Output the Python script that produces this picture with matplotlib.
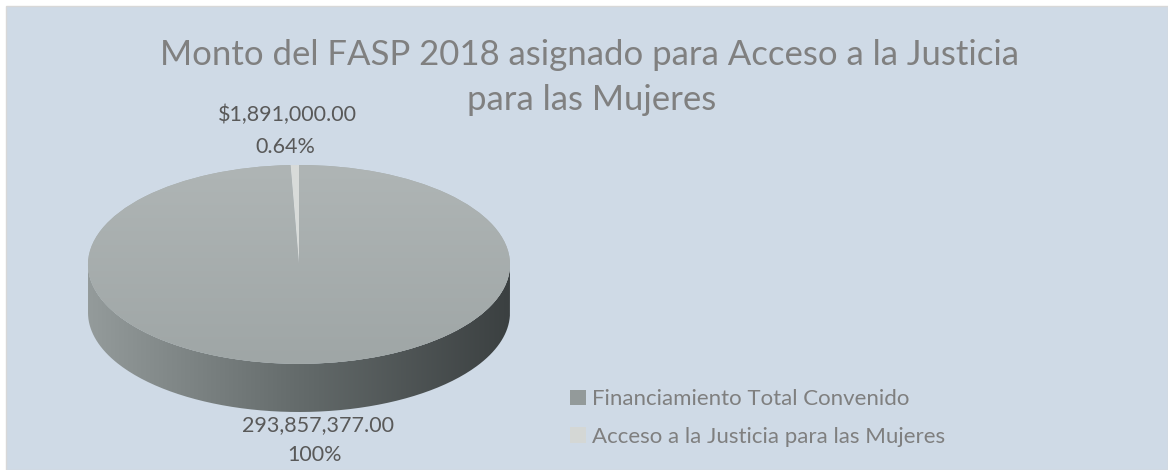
import numpy as np
import matplotlib
matplotlib.use("Agg")
import matplotlib.pyplot as plt
from matplotlib.colors import LinearSegmentedColormap
from matplotlib.patches import Rectangle, PathPatch
from matplotlib.path import Path

# data
categories = ["Financiamiento Total Convenido", "Acceso a la Justicia para las Mujeres"]
values = [293857377.00, 1891000.00]
value_labels = ["293,857,377.00", "$1,891,000.00"]
pct_labels = ["100%", "0.64%"]
colors = ["#a6adad", "#d8dbd9"]

title_lines = ["Monto del FASP 2018 asignado para Acceso a la Justicia", "para las Mujeres"]

plt.rcParams["font.family"] = ["Lato", "DejaVu Sans"]

W, H = 1168, 470
fig = plt.figure(figsize=(W / 100, H / 100), dpi=100)
fig.patch.set_facecolor("white")

# background panel in pixel coordinates
bg = fig.add_axes([0, 0, 1, 1])
bg.set_xlim(0, W)
bg.set_ylim(H, 0)
bg.axis("off")
bg.add_patch(Rectangle((6, 6), W - 6, H - 6, facecolor="#cfdae6",
                       edgecolor="#d8d8d8", linewidth=1))

bg.text(589, 55, title_lines[0], ha="center", va="center", fontsize=25, color="#808080")
bg.text(592, 100, title_lines[1], ha="center", va="center", fontsize=25, color="#808080")

# pie axes: top face ellipse spans x 88..510, y 165..363; side depth 48px
depth = 48 / 99
ax = fig.add_axes([88 / W, (H - 412) / H, 422 / W, (412 - 165) / H])
ax.set_facecolor("none")

# side wall with horizontal gradient
t = np.linspace(np.pi, 2 * np.pi, 200)
xs = np.concatenate([np.cos(t), np.cos(t[::-1])])
ys = np.concatenate([np.sin(t), np.sin(t[::-1]) - depth])
side = PathPatch(Path(np.column_stack([xs, ys])), facecolor="none", edgecolor="none")
ax.add_patch(side)
side_cmap = LinearSegmentedColormap.from_list("side", ["#949b9b", "#646b6b", "#3b4041"])
grad = np.linspace(0, 1, 256).reshape(1, -1)
im = ax.imshow(grad, cmap=side_cmap, extent=(-1, 1, -1 - depth, 0),
               aspect="auto", zorder=1)
im.set_clip_path(side)

wedges, _ = ax.pie(values, colors=colors, startangle=90, counterclock=False,
                   radius=1, wedgeprops=dict(linewidth=0))
for w in wedges:
    w.set_zorder(2)

# soft vertical shading on the top face
top_cmap = LinearSegmentedColormap.from_list("top", ["#9fa6a6", "#afb5b5"])
vgrad = np.linspace(0, 1, 256).reshape(-1, 1)
im2 = ax.imshow(vgrad, cmap=top_cmap, extent=(-1, 1, -1, 1), origin="lower",
                aspect="auto", zorder=3)
im2.set_clip_path(wedges[0])

ax.set_aspect("auto")
ax.set_xlim(-1, 1)
ax.set_ylim(-1 - depth, 1)
ax.axis("off")

# data labels
lab = dict(ha="center", va="center", fontsize=15.5, color="#595959")
bg.text(287, 115, value_labels[1], **lab)
bg.text(285, 147, pct_labels[1], **lab)
bg.text(318, 425, value_labels[0], **lab)
bg.text(315, 455, pct_labels[0], **lab)

leg_colors = ["#939a9a", "#d4d7d5"]
handles = [Rectangle((0, 0), 1, 1, facecolor=c, edgecolor="none") for c in leg_colors]
fig.legend(handles, categories, loc="center left", bbox_to_anchor=(570 / W, 1 - 418 / H),
           frameon=False, fontsize=16, labelcolor="#7f7f7f",
           handlelength=0.7, handleheight=0.7, handletextpad=0.3,
           labelspacing=0.8, borderpad=0, borderaxespad=0)

fig.savefig("out.png", dpi=100)
